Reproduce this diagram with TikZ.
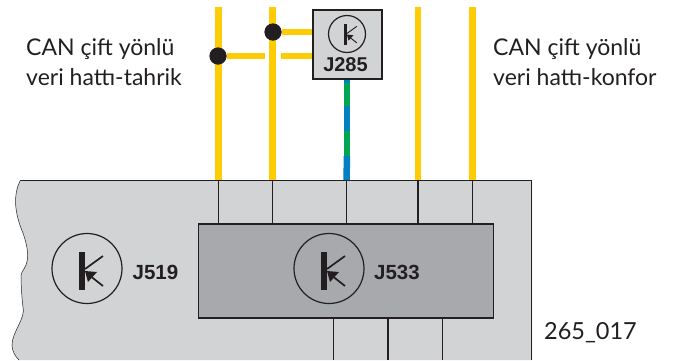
\documentclass[tikz,border=0pt]{standalone}
\usepackage{fontspec}
\setmainfont{Lato}
\newfontfamily\labfont{Liberation Sans}[BoldFont={Liberation Sans Bold}]
\definecolor{busyellow}{HTML}{FFCB05}
\definecolor{busblue}{HTML}{0080C0}
\definecolor{busgreen}{HTML}{00A651}
\definecolor{ecugray}{HTML}{D1D3D4}
\definecolor{coregray}{HTML}{A7A9AC}
\definecolor{inkdark}{HTML}{231F20}
\tikzset{
  x=1pt,y=-1pt,
  bus/.style={line width=6.5pt,busyellow},
  wire/.style={line width=1.7pt,inkdark},
  junction/.style={circle,fill=inkdark,minimum size=17pt,inner sep=0pt},
  symring/.style={circle,draw=inkdark,line width=1.2pt,inner sep=0pt},
  caption/.style={font=\fontsize{23}{30.5}\selectfont,align=left,text=inkdark,inner sep=0pt,anchor=west},
  code/.style={font=\labfont\bfseries\fontsize{20.5}{20}\selectfont,text=inkdark,inner sep=0pt},
}
\newcommand{\ksym}[3]{% x, y, scale
  \begin{scope}[shift={(#1,#2)},scale=#3]
    \fill[inkdark] (-8,-17) rectangle (-2,21);
    \draw[inkdark,line width=#3*1.7pt] (-2,0) -- (16,-13);
    \draw[inkdark,line width=#3*1.7pt] (16,17) -- (2,6);
    \fill[inkdark] (-2,2) -- (10,3) -- (1,13) -- cycle;
  \end{scope}}
\begin{document}
\begin{tikzpicture}
\useasboundingbox (0,0) rectangle (673,360);
% main control unit with torn left edge
\path[fill=ecugray] (20,181) .. controls (13,195) and (15,212) .. (21,228)
  .. controls (26,240) and (30,255) .. (26,265) .. controls (24,270) and (21,272) .. (21,276)
  .. controls (21,285) and (22,300) .. (23,307) .. controls (26,318) and (12,332) .. (12,345)
  .. controls (12,351) and (15,356) .. (19,360) -- (532,360) -- (532,181) -- cycle;
\draw[inkdark,line width=0.5pt] (20,181) .. controls (13,195) and (15,212) .. (21,228)
  .. controls (26,240) and (30,255) .. (26,265) .. controls (24,270) and (21,272) .. (21,276)
  .. controls (21,285) and (22,300) .. (23,307) .. controls (26,318) and (12,332) .. (12,345)
  .. controls (12,351) and (15,356) .. (19,360);
\draw[inkdark,line width=1.7pt] (20,180.5) -- (531.5,180.5) -- (531.5,360);
% inner unit
\node[draw=inkdark,fill=coregray,line width=1.7pt,minimum width=295pt,minimum height=94pt,inner sep=0pt] (core) at (346,271) {};
% bus anchors
\coordinate (a1) at (218.5,7); \coordinate (a2) at (272.5,7);
\coordinate (a4) at (418,7); \coordinate (a5) at (472.5,7);
\coordinate (b1) at (218.5,180); \coordinate (b2) at (272.5,180);
\coordinate (b3) at (346.5,180); \coordinate (b4) at (418,180); \coordinate (b5) at (472.5,180);
\coordinate (c1) at (218.5,224); \coordinate (c2) at (272.5,224);
\coordinate (c3) at (346.5,224); \coordinate (c4) at (418,224); \coordinate (c5) at (472.5,224);
\coordinate (d1) at (333.5,318); \coordinate (d2) at (388,318); \coordinate (d3) at (442.5,318);
\coordinate (e1) at (333.5,360); \coordinate (e2) at (388,360); \coordinate (e3) at (442.5,360);
% wires
\foreach \i in {1,...,5} \draw[wire] (b\i) -- (c\i);
\foreach \i in {1,2,3} \draw[wire] (d\i) -- (e\i);
% gateway box
\node[draw=inkdark,fill=ecugray,line width=1.7pt,minimum width=69pt,minimum height=69pt,inner sep=0pt] (gw) at (347.5,44.5) {};
% yellow buses
\draw[bus] (a1) -- (b1);
\draw[bus] (a2) -- (b2);
\draw[bus] (a4) -- (b4);
\draw[bus] (a5) -- (b5);
\node[junction] (j1) at (218,56) {};
\node[junction] (j2) at (273,32) {};
\coordinate (g1) at (gw.west |- j2); \coordinate (g2) at (gw.west |- j1);
\coordinate (gapa) at (265,56); \coordinate (gapb) at (281,56);
\draw[bus,line width=6pt] (j2) -- (g1);
\draw[bus,line width=6pt] (j1) -- (gapa);
\draw[bus,line width=6pt] (gapb) -- (g2);
\node[junction] at (j1) {};
\node[junction] at (j2) {};
% diagnostic line
\coordinate (v0) at (347,80); \coordinate (v1) at (347,83); \coordinate (v2) at (347,106);
\coordinate (v3) at (347,131); \coordinate (v4) at (347,156);
\draw[line width=6.5pt,busblue] (v0) -- (v1);
\draw[line width=6.5pt,busgreen] (v1) -- (v2);
\draw[line width=6.5pt,busblue] (v2) -- (v3);
\draw[line width=6.5pt,busgreen] (v3) -- (v4);
\draw[line width=6.5pt,busblue] (v4) -- (b3);
% symbols
\node[symring,minimum size=37pt] (sg) at (347,34) {};
\ksym{348}{33.5}{0.55}
\node[symring,minimum size=70pt] (s519) at (87,268.5) {};
\ksym{87}{269}{1}
\node[symring,minimum size=70pt] (s533) at (329,268.5) {};
\ksym{329}{269}{1}
% labels
\node[code,font=\labfont\bfseries\fontsize{20}{20}\selectfont] (t285) at (345.5,65) {J285};
\node[code] (t519) at (155.5,272) {J519};
\node[code] (t533) at (397,272) {J533};
\node[caption] (cl) at (26,62) {CAN çift yönlü\\veri hattı-tahrik};
\node[caption] (cr) at (493,62) {CAN çift yönlü\\veri hattı-konfor};
\node[caption,font=\fontsize{23.5}{30}\selectfont] (ref) at (544,333) {265\_017};
\end{tikzpicture}
\end{document}
